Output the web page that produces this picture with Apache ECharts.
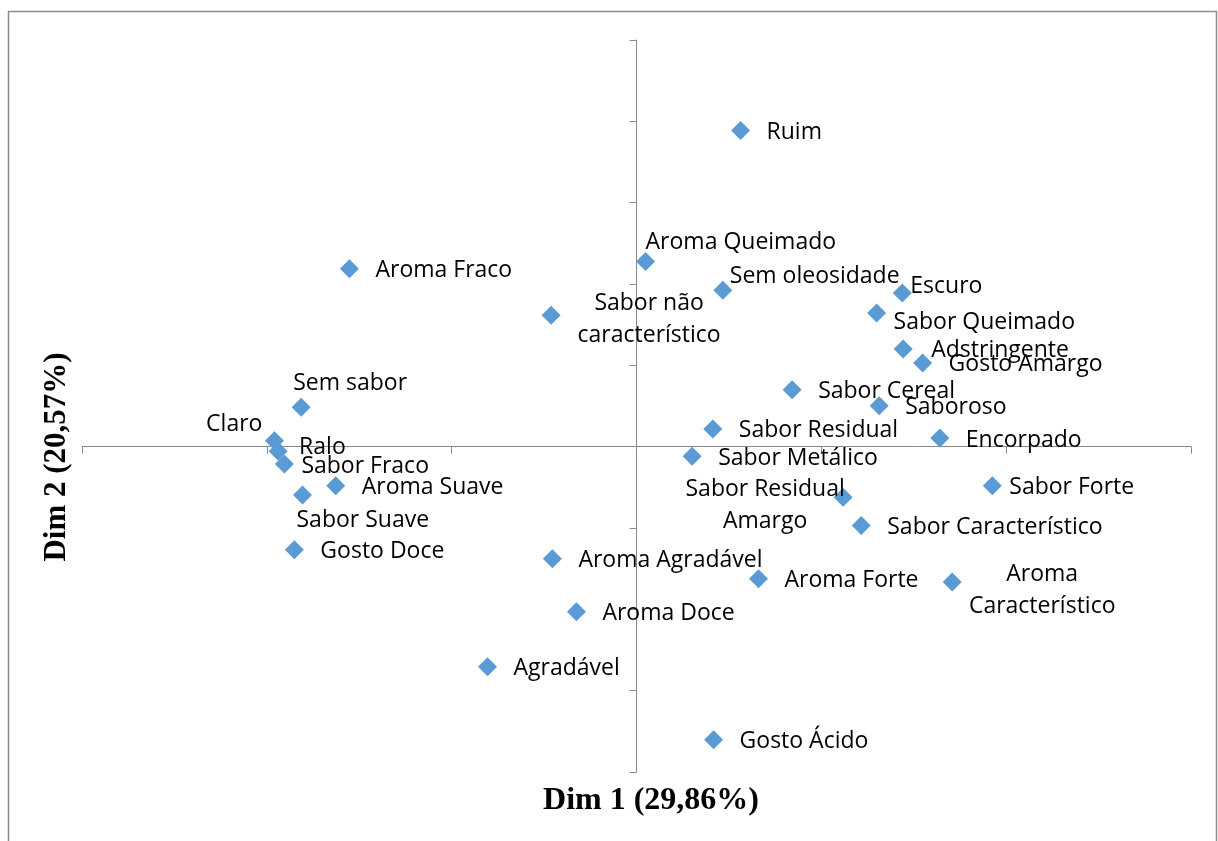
<!DOCTYPE html>
<html>
<head>
<meta charset="utf-8">
<script src="https://cdn.jsdelivr.net/npm/echarts@6/dist/echarts.min.js"></script>
<style>
  html, body { margin: 0; padding: 0; background: #fff; }
  #chart { width: 1218px; height: 841px; }
</style>
</head>
<body>
<div id="chart"></div>
<script>
// attributes (label text, line breaks kept as in the picture)
var names = ['Ruim', 'Aroma Queimado', 'Aroma Fraco', 'Sem oleosidade', 'Escuro',
    'Sabor não\ncaracterístico', 'Sabor Queimado', 'Adstringente', 'Gosto Amargo', 'Sabor Cereal',
    'Saboroso', 'Sabor Residual', 'Encorpado', 'Sabor Metálico', 'Sabor Residual\nAmargo',
    'Sabor Característico', 'Sabor Forte', 'Aroma\nCaracterístico', 'Aroma Forte', 'Sem sabor',
    'Claro', 'Ralo', 'Sabor Fraco', 'Aroma Suave', 'Sabor Suave',
    'Gosto Doce', 'Aroma Agradável', 'Aroma Doce', 'Agradável', 'Gosto Ácido'];
var dim1 = [0.563, 0.049, -1.553, 0.467, 1.438,
    -0.462, 1.299, 1.443, 1.548, 0.842,
    1.313, 0.413, 1.641, 0.301, 1.118,
    1.216, 1.925, 1.708, 0.660, -1.814,
    -1.959, -1.939, -1.905, -1.627, -1.807,
    -1.851, -0.455, -0.325, -0.806, 0.417];
var dim2 = [3.887, 2.276, 2.189, 1.923, 1.890,
    1.615, 1.644, 1.202, 1.030, 0.701,
    0.504, 0.218, 0.107, -0.119, -0.623,
    -0.968, -0.480, -1.664, -1.624, 0.484,
    0.074, -0.057, -0.213, -0.480, -0.594,
    -1.267, -1.378, -2.030, -2.706, -3.604];

// where each label sits relative to its marker (default: to the right)
var labelPlace = {
    'Escuro': ['left', 8, -8],
    'Sabor Queimado': ['left', 17, 7],
    'Adstringente': ['left', 28, 0],
    'Ralo': ['left', 21, -6],
    'Sabor Fraco': ['left', 17, 0],
    'Sabor Forte': ['left', 17, 0],
    'Sabor Residual\nAmargo': ['center', -78, 6],
    'Sabor não\ncaracterístico': ['center', 98, 2],
    'Aroma\nCaracterístico': ['center', 90, 6],
    'Aroma Queimado': ['left', 0, -21],
    'Sem oleosidade': ['left', 7, -16],
    'Sem sabor': ['left', -8, -26],
    'Claro': ['right', -12, -18],
    'Sabor Suave': ['left', -6, 23]
};

var symSize = 19;

var chartDom = document.getElementById('chart');
var myChart = echarts.init(chartDom);

var points = names.map(function (n, i) {
    var p = labelPlace[n] || ['left', 26, 0];
    return {
        name: n,
        value: [dim1[i], dim2[i]],
        label: {
            position: [symSize / 2 + p[1], symSize / 2 + p[2] + 2],
            align: p[0]
        }
    };
});

var axisLineStyle = { color: '#898989', width: 1 };

var option = {
    animation: false,
    grid: {
        left: 82,
        right: 27,
        top: 40,
        bottom: 69
    },
    xAxis: {
        type: 'value',
        min: -3,
        max: 3,
        interval: 1,
        axisLine: { show: true, onZero: true, lineStyle: axisLineStyle },
        axisTick: { show: true, length: 7, lineStyle: axisLineStyle },
        axisLabel: { show: false },
        splitLine: { show: false }
    },
    yAxis: {
        type: 'value',
        min: -4,
        max: 5,
        interval: 1,
        axisLine: { show: true, onZero: true, lineStyle: axisLineStyle },
        axisTick: { show: true, length: 7, lineStyle: axisLineStyle },
        axisLabel: { show: false },
        splitLine: { show: false }
    },
    series: [{
        type: 'scatter',
        symbol: 'diamond',
        symbolSize: symSize,
        itemStyle: { color: '#5B9BD5', opacity: 1 },
        label: {
            show: true,
            verticalAlign: 'middle',
            color: '#000',
            fontSize: 23,
            fontFamily: 'Open Sans',
            lineHeight: 32,
            formatter: function (params) { return params.name; }
        },
        labelLayout: { hideOverlap: false },
        data: points
    }],
    graphic: [
        {
            type: 'rect',
            shape: { x: 8.5, y: 11.5, width: 1208, height: 840 },
            style: { fill: 'none', stroke: '#8c8c8c', lineWidth: 1.5 },
            silent: true
        },
        {
            type: 'text',
            x: 651,
            y: 801,
            style: {
                text: 'Dim 1 (29,86%)',
                font: 'bold 32px "Liberation Serif", "Times New Roman", serif',
                fill: '#000',
                align: 'center',
                verticalAlign: 'middle'
            }
        },
        {
            type: 'text',
            x: 57,
            y: 457,
            rotation: Math.PI / 2,
            style: {
                text: 'Dim 2 (20,57%)',
                font: 'bold 31px "Liberation Serif", "Times New Roman", serif',
                fill: '#000',
                align: 'center',
                verticalAlign: 'middle'
            }
        }
    ]
};

option && myChart.setOption(option);
</script>
</body>
</html>
